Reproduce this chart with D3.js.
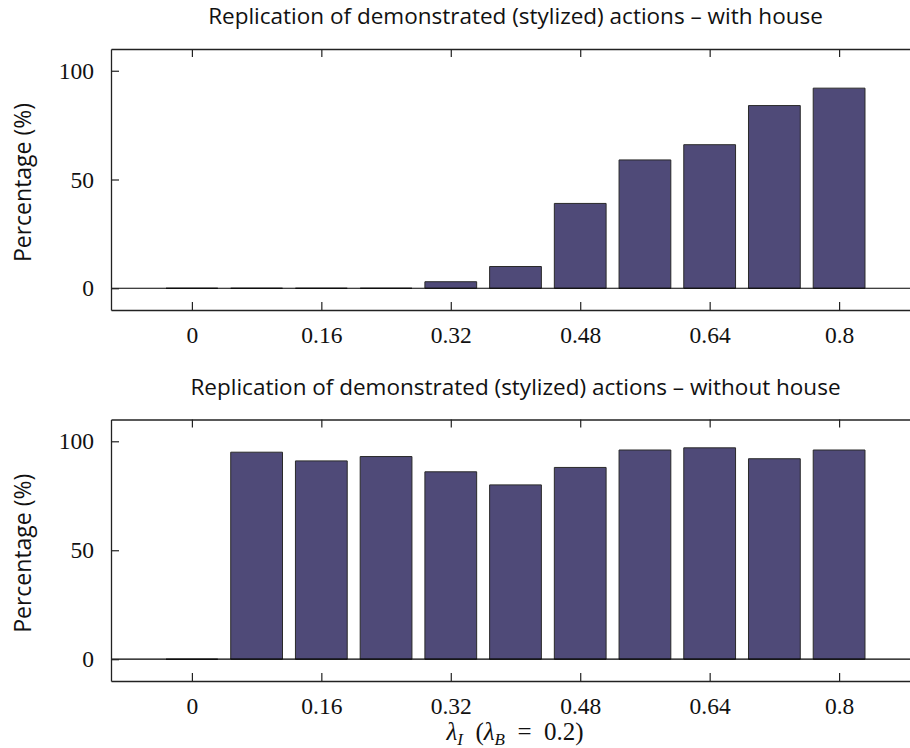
<!DOCTYPE html>
<html>
<head>
<meta charset="utf-8">
<script src="https://cdn.jsdelivr.net/npm/d3@7"></script>
<style>
  body { margin: 0; background: #fff; }
  svg { display: block; }
</style>
</head>
<body>
<svg id="chart"></svg>
<script>
var screen = {width:910, height:748};

// lambda_I values, one bar each
var lambdas = [0, 0.08, 0.16, 0.24, 0.32, 0.40, 0.48, 0.56, 0.64, 0.72, 0.80];
var withHouse = [0, 0, 0, 0, 3, 10, 39, 59, 66, 84, 92];
var withoutHouse = [0, 95, 91, 93, 86, 80, 88, 96, 97, 92, 96];

var xTicks = [0, 0.16, 0.32, 0.48, 0.64, 0.8];
var xTickLabels = ["0", "0.16", "0.32", "0.48", "0.64", "0.8"];
var yTicks = [0, 50, 100];

var titles = ["Replication of demonstrated (stylized) actions \u2013 with house",
              "Replication of demonstrated (stylized) actions \u2013 without house"];

var barColor = "#4f4a78";
var serif = "'Liberation Serif', 'DejaVu Serif', serif";
var sans = "'Open Sans', 'DejaVu Sans', sans-serif";

var svg = d3.select("#chart")
    .attr("width", screen.width)
    .attr("height", screen.height);

var xscale = d3.scaleLinear()
    .domain([-0.1, 0.9])
    .range([111, 920]);

var barStep = xscale(0.08) - xscale(0);
var barWidth = barStep * 0.8;

var drawPanel = function(values, title, top, bottom, showXLabel)
    {
        var yscale = d3.scaleLinear()
            .domain([-10, 110])
            .range([bottom, top]);

        var g = svg.append("g");

        // bars (path so zero-height bars still show their edge)
        g.selectAll("path.bar")
            .data(values)
            .enter()
            .append("path")
            .attr("class", "bar")
            .attr("d", function(d, i) {
                var x0 = xscale(lambdas[i]) - barWidth / 2;
                var y0 = yscale(0), y1 = yscale(d);
                return "M" + x0 + "," + y0 + "V" + y1 + "H" + (x0 + barWidth) + "V" + y0 + "Z";
            })
            .attr("fill", barColor)
            .attr("stroke", "#2a2a2a")
            .attr("stroke-width", 1);

        // baseline at zero
        g.append("line")
            .attr("x1", xscale.range()[0])
            .attr("x2", xscale.range()[1])
            .attr("y1", yscale(0))
            .attr("y2", yscale(0))
            .attr("stroke", "#000")
            .attr("stroke-width", 1.2);

        var xAxis = d3.axisBottom(xscale)
            .tickValues(xTicks)
            .tickFormat(function(d, i) { return xTickLabels[i]; })
            .tickSizeInner(-8)
            .tickSizeOuter(0)
            .tickPadding(16);
        var xAxisTop = d3.axisTop(xscale)
            .tickValues(xTicks)
            .tickFormat("")
            .tickSizeInner(-8)
            .tickSizeOuter(0);
        var yAxis = d3.axisLeft(yscale)
            .tickValues(yTicks)
            .tickSizeInner(-8)
            .tickSizeOuter(0)
            .tickPadding(17);

        var ax = g.append("g")
            .attr("transform", "translate(0," + bottom + ")")
            .call(xAxis);
        var axTop = g.append("g")
            .attr("transform", "translate(0," + top + ")")
            .call(xAxisTop);
        var ay = g.append("g")
            .attr("transform", "translate(" + xscale.range()[0] + ",0)")
            .call(yAxis);

        [ax, axTop, ay].forEach(function(a) {
            a.select(".domain").attr("stroke", "#222").attr("stroke-width", 1.3);
            a.selectAll(".tick line").attr("stroke", "#222").attr("stroke-width", 1.2);
            a.selectAll(".tick text")
                .attr("fill", "#111")
                .style("font-family", serif)
                .style("font-size", "23.5px");
        });

        g.append("text")
            .attr("x", (xscale.range()[0] + xscale.range()[1]) / 2)
            .attr("y", top - 25)
            .attr("text-anchor", "middle")
            .style("font-family", sans)
            .style("font-size", "22.5px")
            .attr("fill", "#111")
            .text(title);

        g.append("text")
            .attr("transform", "translate(31," + ((top + bottom) / 2 + 3) + ") rotate(-90)")
            .attr("text-anchor", "middle")
            .style("font-family", sans)
            .style("font-size", "23px")
            .attr("fill", "#111")
            .text("Percentage (%)");

        if (showXLabel)
            {
                var lab = g.append("text")
                    .attr("x", 515)
                    .attr("y", bottom + 59)
                    .attr("text-anchor", "middle")
                    .style("font-family", serif)
                    .style("font-size", "25px")
                    .attr("fill", "#111");
                lab.append("tspan").style("font-style", "italic").text("\u03bb");
                lab.append("tspan").attr("dy", 5).style("font-style", "italic").style("font-size", "17px").text("I");
                lab.append("tspan").attr("dy", -5).text("\u2002(");
                lab.append("tspan").style("font-style", "italic").text("\u03bb");
                lab.append("tspan").attr("dy", 5).style("font-style", "italic").style("font-size", "17px").text("B");
                lab.append("tspan").attr("dy", -5).text("\u2002=\u20020.2)");
            }
    };

drawPanel(withHouse, titles[0], 49, 310, false);
drawPanel(withoutHouse, titles[1], 419.5, 681, true);
</script>
</body>
</html>
